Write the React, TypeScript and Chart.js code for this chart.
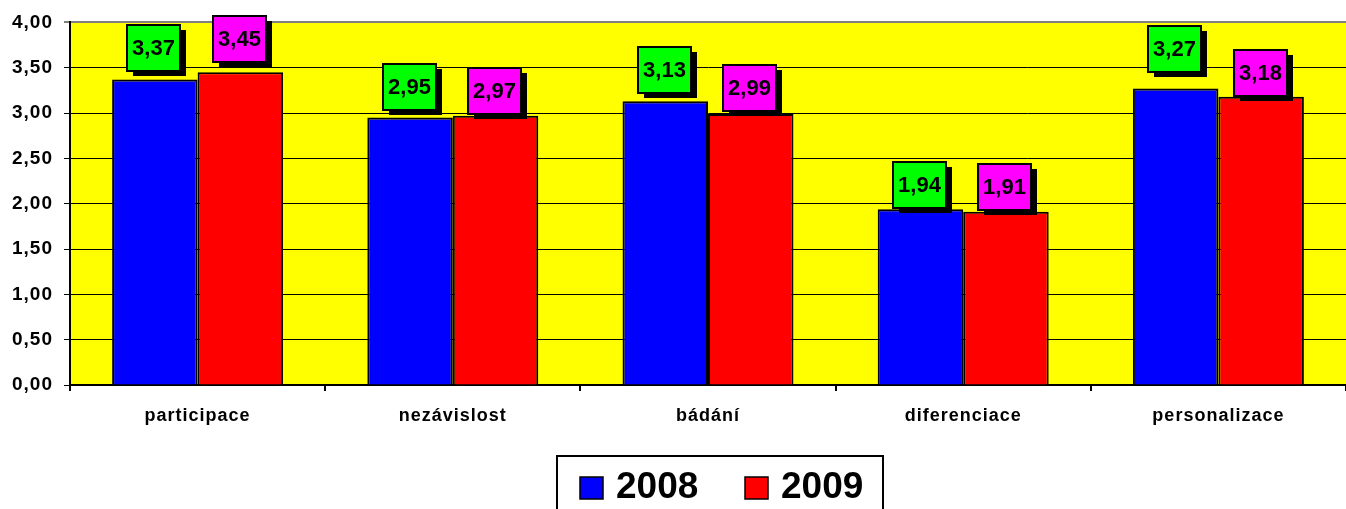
import React, { useEffect, useRef } from "react";
import { Chart, registerables } from "chart.js";

Chart.register(...registerables);

const categories = ["participace", "nezávislost", "bádání", "diferenciace", "personalizace"];
const seriesLabels = ["2008", "2009"];
const values2008 = [3.37, 2.95, 3.13, 1.94, 3.27];
const values2009 = [3.45, 2.97, 2.99, 1.91, 3.18];
const yTickMin = 0;
const yTickMax = 4;
const yTickStep = 0.5;

// label placement (pixels above bar top) as in the original Excel chart
const labelGap2008 = [9, 8, 8, 1, 17];
const labelGap2009 = [10, 2, 3, 2, 1];

const FONT = 'Arial, "Liberation Sans", sans-serif';
const fmt = (v: number) => v.toFixed(2).replace(".", ",");

const backgroundPlugin = {
  id: "plotBg",
  beforeUpdate(chart: any) {
    chart.ctx.letterSpacing = "1px";
  },
  beforeDraw(chart: any) {
    const { ctx, chartArea } = chart;
    ctx.letterSpacing = "1px";
    ctx.save();
    ctx.fillStyle = "#FFFFFF";
    ctx.fillRect(0, 0, chart.width, chart.height);
    ctx.fillStyle = "#FFFF00";
    ctx.fillRect(chartArea.left, chartArea.top, chartArea.right - chartArea.left, chartArea.bottom - chartArea.top);
    ctx.restore();
  },
};

const valueBoxPlugin = {
  id: "valueBoxes",
  afterDatasetsDraw(chart: any) {
    const { ctx } = chart;
    const gaps = [labelGap2008, labelGap2009];
    chart.data.datasets.forEach((ds: any, di: number) => {
      const meta = chart.getDatasetMeta(di);
      meta.data.forEach((bar: any, i: number) => {
        const w = 53;
        const h = 46;
        const cx = bar.x - 1;
        const bottom = bar.y - gaps[di][i];
        const left = Math.round(cx - w / 2);
        const top = Math.round(bottom - h);
        ctx.save();
        ctx.fillStyle = "#000000";
        ctx.fillRect(left + 6, top + 5, w, h);
        ctx.fillStyle = ds.labelColor;
        ctx.fillRect(left, top, w, h);
        ctx.strokeStyle = "#000000";
        ctx.lineWidth = 2;
        ctx.strokeRect(left, top, w, h);
        ctx.fillStyle = "#000000";
        ctx.font = `bold 22px ${FONT}`;
        ctx.letterSpacing = "0px";
        ctx.textAlign = "center";
        ctx.textBaseline = "middle";
        ctx.fillText(fmt(ds.data[i]), left + w / 2, top + h / 2 + 1);
        ctx.restore();
      });
    });
  },
};

const boxedLegendPlugin = {
  id: "boxedLegend",
  afterDraw(chart: any) {
    const { ctx } = chart;
    ctx.save();
    ctx.fillStyle = "#FFFFFF";
    ctx.fillRect(557, 456, 326, 70);
    ctx.strokeStyle = "#000000";
    ctx.lineWidth = 2;
    ctx.strokeRect(557, 456, 326, 70);
    chart.data.datasets.forEach((ds: any, i: number) => {
      const x = 580 + i * 165;
      ctx.fillStyle = ds.backgroundColor;
      ctx.fillRect(x, 477, 23, 22);
      ctx.strokeStyle = "#000000";
      ctx.lineWidth = 1.5;
      ctx.strokeRect(x, 477, 23, 22);
      ctx.fillStyle = "#000000";
      ctx.font = `bold 37px ${FONT}`;
      ctx.letterSpacing = "0px";
      ctx.textAlign = "left";
      ctx.textBaseline = "middle";
      ctx.fillText(ds.label, x + 36, 488);
    });
    ctx.restore();
  },
};

export default function App() {
  const ref = useRef<HTMLCanvasElement | null>(null);
  useEffect(() => {
    document.body.style.margin = "0";
    if (!ref.current) return;
    const chart = new Chart(ref.current, {
      type: "bar",
      data: {
        labels: categories,
        datasets: [
          {
            label: seriesLabels[0],
            data: values2008,
            backgroundColor: "#0000FF",
            borderColor: "#000000",
            borderWidth: 2,
            labelColor: "#00FF00",
          } as any,
          {
            label: seriesLabels[1],
            data: values2009,
            backgroundColor: "#FF0000",
            borderColor: "#000000",
            borderWidth: 2,
            labelColor: "#FF00FF",
          } as any,
        ],
      },
      options: {
        responsive: false,
        animation: false,
        layout: { padding: { top: 22, left: 0, right: 0, bottom: 84 } },
        plugins: {
          legend: { display: false },
          tooltip: { enabled: false },
        },
        datasets: { bar: { barPercentage: 1, categoryPercentage: 0.67 } },
        scales: {
          x: {
            offset: true,
            grid: {
              display: true,
              drawOnChartArea: false,
              drawTicks: true,
              tickLength: 6,
              color: "#000000",
              lineWidth: 2,
              offset: true,
            },
            border: { display: true, color: "#000000", width: 2 },
            ticks: {
              color: "#000000",
              font: { family: FONT, size: 18, weight: "bold" },
              padding: 14,
              maxRotation: 0,
              autoSkip: false,
            },
            afterFit: (s: any) => {
              s.height = 40;
            },
          },
          y: {
            min: yTickMin,
            max: yTickMax,
            ticks: {
              stepSize: yTickStep,
              color: "#000000",
              font: { family: FONT, size: 19, weight: "bold" },
              padding: 11,
              callback: (v: any) => fmt(Number(v)),
            },
            grid: {
              color: (c: any) => (c.tick && c.tick.value === yTickMax ? "#808080" : "#000000"),
              lineWidth: (c: any) => (c.tick && c.tick.value === yTickMax ? 2 : 1),
              tickLength: 6,
              drawTicks: true,
            },
            border: { display: true, color: "#000000", width: 2 },
            afterFit: (s: any) => {
              s.width = 70;
            },
          },
        },
      },
      plugins: [backgroundPlugin, valueBoxPlugin, boxedLegendPlugin],
    });
    return () => chart.destroy();
  }, []);
  return <canvas ref={ref} width={1346} height={509} style={{ display: "block" }} />;
}
